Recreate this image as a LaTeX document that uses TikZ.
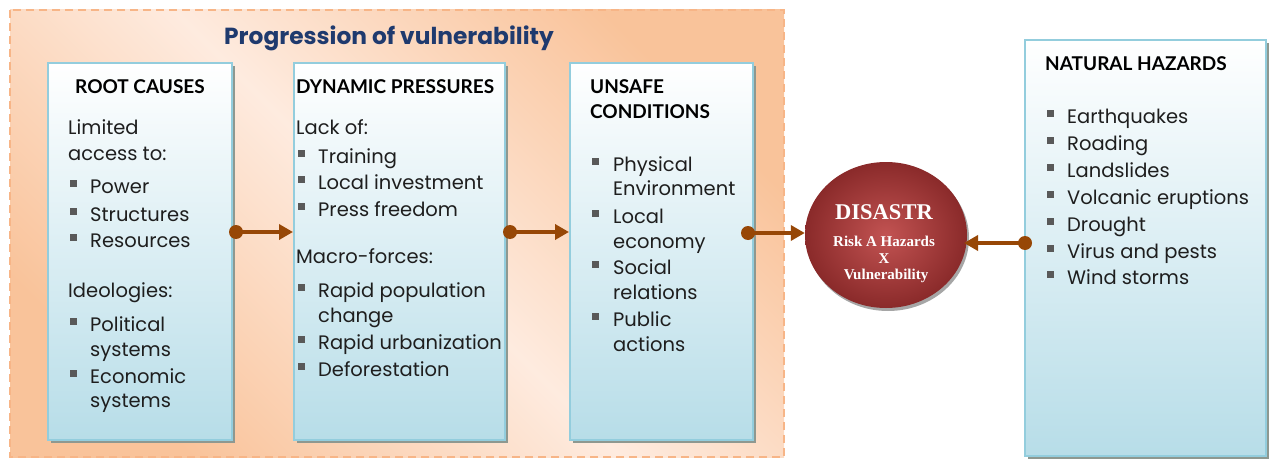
\documentclass[tikz,border=0pt]{standalone}
\usepackage{fontspec}
\setmainfont{Poppins}
\newfontfamily\headfont{Lato}
\newfontfamily\serifb{Liberation Serif}
\usetikzlibrary{arrows.meta,shadows,shapes.geometric}
\definecolor{boxline}{HTML}{93CDDD}
\definecolor{boxbot}{HTML}{B7DDE8}
\definecolor{orgdark}{HTML}{F9C39A}
\definecolor{orglight}{HTML}{FEEBDF}
\definecolor{orgdash}{HTML}{F7B587}
\definecolor{arr}{HTML}{974706}
\definecolor{navy}{HTML}{1F3A6E}
\definecolor{bulgray}{HTML}{595959}
\definecolor{redin}{HTML}{C25352}
\definecolor{redout}{HTML}{8A2A2A}
\definecolor{shadowc}{HTML}{8E9890}
\definecolor{txt}{HTML}{1E1E1E}
\begin{document}
\begin{tikzpicture}[x=1pt,y=-1pt,
  vbox/.style={draw=boxline, line width=2pt, top color=white, bottom color=boxbot, inner sep=0pt,
    drop shadow={shadow xshift=3pt, shadow yshift=-3pt, fill=shadowc, opacity=1}},
  body/.style={anchor=base west, font=\fontsize{19.5}{24}\selectfont, text=txt, inner sep=0pt},
  head/.style={anchor=base west, font=\headfont\bfseries\fontsize{19}{23}\selectfont, text=black, inner sep=0pt},
  bul/.style={fill=bulgray, minimum size=7pt, inner sep=0pt},
  dot/.style={circle, fill=arr, minimum size=14pt, inner sep=0pt},
  conn/.style={draw=arr, line width=3.5pt, -{Triangle[length=14pt,width=15pt]}},
  ctext/.style={font=\serifb\bfseries\fontsize{15}{18}\selectfont, text=white, inner sep=0pt, anchor=base}
]
\useasboundingbox (0,0) rectangle (1270,460);

% background region
\path[top color=orgdark, bottom color=orgdark, middle color=orglight, shading angle=-45]
  (10,10) rectangle (784,457);
\draw[orgdash, line width=1.6pt, dash pattern=on 8pt off 5pt] (10,10) rectangle (784,457);
\node[anchor=base west, font=\bfseries\fontsize{23.3}{28}\selectfont, text=navy, inner sep=0pt] (title) at (224,45) {Progression of vulnerability};

% boxes
\node[vbox, minimum width=184pt, minimum height=377pt] (root) at (140,251.5) {};
\node[vbox, minimum width=211pt, minimum height=377pt] (dyn) at (399.5,251.5) {};
\node[vbox, minimum width=183pt, minimum height=377pt] (uns) at (661.5,251.5) {};
\node[vbox, minimum width=241pt, minimum height=416pt] (nat) at (1145.5,248) {};

% disaster circle
\node[ellipse, minimum width=162pt, minimum height=146pt, inner color=redin, outer color=redout,
  drop shadow={shadow xshift=2pt, shadow yshift=-3pt, fill=black, opacity=0.35}] (dis) at (886,235) {};
\node[ctext, font=\serifb\bfseries\fontsize{22.5}{26}\selectfont] (dt1) at (884,219) {DISASTR};
\node[ctext] (dt2) at (884,246) {Risk A Hazards};
\node[ctext] (dt3) at (884,263) {X};
\node[ctext] (dt4) at (886,279) {Vulnerability};

% headers
\node[head, anchor=base] (h1) at (140,94) {ROOT CAUSES};
\node[head] (h2) at (296,94) {DYNAMIC PRESSURES};
\node[head] (h3a) at (590,94) {UNSAFE};
\node[head] (h3b) at (590,118) {CONDITIONS};
\node[head] (h4) at (1045,71) {NATURAL HAZARDS};

% root causes
\foreach \y/\t [count=\i] in {135/Limited,160/access to:,297/Ideologies:}
  \node[body] (rp\i) at (68,\y) {\t};
\foreach \y/\t [count=\i] in {193/Power,221/Structures,247/Resources,331/Political,356/systems,383/Economic,407/systems}
  \node[body] (rt\i) at (90,\y) {\t};
\foreach \y [count=\i] in {193,221,247,331,383}
  \node[bul] (rb\i) at (73,{\y-9.5}) {};

% dynamic pressures
\foreach \y/\t [count=\i] in {135/Lack of:,263/Macro-forces:}
  \node[body] (dp\i) at (296,\y) {\t};
\foreach \y/\t [count=\i] in {163/Training,189/Local investment,216/Press freedom,297/Rapid population,322/change,349/Rapid urbanization,376/Deforestation}
  \node[body] (dt\i) at (318,\y) {\t};
\foreach \y [count=\i] in {163,189,216,297,349,376}
  \node[bul] (db\i) at (301,{\y-9.5}) {};

% unsafe conditions
\foreach \y/\t [count=\i] in {171/Physical,195/Environment,223/Local,248/economy,274/Social,299/relations,326/Public,351/actions}
  \node[body] (ut\i) at (613,\y) {\t};
\foreach \y [count=\i] in {171,223,274,326}
  \node[bul] (ub\i) at (595,{\y-9.5}) {};

% natural hazards
\foreach \y/\t [count=\i] in {123/Earthquakes,150/Roading,177/Landslides,204/Volcanic eruptions,231/Drought,258/Virus and pests,284/Wind storms}
  {\node[body] (nt\i) at (1067,\y) {\t};
   \node[bul] (nb\i) at (1050,{\y-9.5}) {};}

% connectors
\node[dot] (d1) at (236,232) {};
\node[dot] (d2) at (510,232) {};
\node[dot] (d3) at (748,233) {};
\node[dot] (d4) at (1025,243) {};
\draw[conn] (d1.center) -- (dyn.west |- d1);
\draw[conn] (d2.center) -- (uns.west |- d2);
\draw[conn] (d3.center) -- (dis.west |- d3);
\coordinate (e4) at (964,243);
\draw[conn] (d4.center) -- (e4);
\end{tikzpicture}
\end{document}
